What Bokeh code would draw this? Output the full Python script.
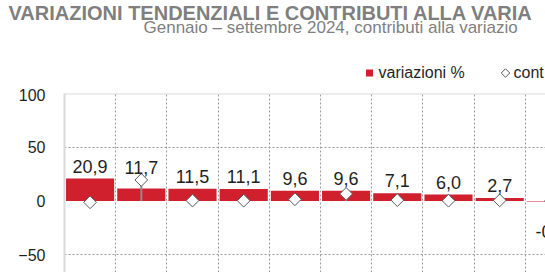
import math
from bokeh.plotting import figure
from bokeh.layouts import column
from bokeh.models import Range1d, FixedTicker, Span, ColumnDataSource
from bokeh.core.properties import value
from bokeh.embed import file_html
from bokeh.resources import INLINE

# ---- data ----
title_text = "VARIAZIONI TENDENZIALI E CONTRIBUTI ALLA VARIA"
subtitle_text = "Gennaio – settembre 2024, contributi alla variazio"
series_names = ["variazioni %", "cont"]
variazioni = [20.9, 11.7, 11.5, 11.1, 9.6, 9.6, 7.1, 6.0, 2.7, -0.4]
contributi = [-1.2, 19.6, 0.4, 0.3, 1.6, 6.6, 0.8, 0.3, 0.6, 0.0]
y_ticks = [-50, 0, 50, 100]

# ---- layout ----
W, H = 545, 272
HEAD_H = 88          # header strip (title, subtitle, legend)
FL, FT = 64, 93      # chart frame left / top in page pixels
CAT_PX = 51.2
Y_MIN = -66.5
RED = "#d0202e"
FONT = "Liberation Sans"
GREY_T = "#7f7f7f"
DARK = "#1f1f1f"

# ---------------- header figure (pixel coordinates, y downward) ----------------
head = figure(width=W, height=HEAD_H, output_backend="svg", toolbar_location=None,
              x_range=Range1d(0, W), y_range=Range1d(HEAD_H, 0),
              x_axis_location=None, y_axis_location=None,
              min_border=0, min_border_left=0, min_border_right=0,
              min_border_top=0, min_border_bottom=0)
head.frame_align = False
head.outline_line_color = None
head.grid.visible = False
head.background_fill_color = "white"
head.border_fill_color = "white"

head.text(x=[8], y=[12], text=[title_text], text_font=value(FONT), text_font_style="bold",
          text_font_size="20px", text_color=GREY_T, text_baseline="alphabetic")
head.text(x=[143], y=[27], text=[subtitle_text], text_font=value(FONT),
          text_font_size="17px", text_color=GREY_T, text_baseline="alphabetic")
# legend
head.scatter(x=[369], y=[72.5], marker="square", size=7, fill_color=RED, line_color=None)
head.text(x=[378], y=[72], text=[series_names[0]], text_font=value(FONT),
          text_font_size="16px", text_color=DARK, text_baseline="alphabetic")
head.scatter(x=[505], y=[72.5], marker="square", angle=math.pi / 4, size=6,
             fill_color="white", line_color="#595959", line_width=1)
head.text(x=[513], y=[72], text=[series_names[1]], text_font=value(FONT),
          text_font_size="16px", text_color=DARK, text_baseline="alphabetic")

# ---------------- chart figure ----------------
n = len(variazioni)
xs = [i + 0.5 for i in range(n)]
labels = [f"{v:.1f}".replace(".", ",") for v in variazioni]
label_y = [max(v, c) if v >= 0 else min(v, c) for v, c in zip(variazioni, contributi)]
label_off = [-12.5 if v >= 0 else 30.5 for v in variazioni]

src = ColumnDataSource(dict(x=xs, v=variazioni, c=contributi, zero=[0] * n,
                            lab=labels, ly=label_y, lo=label_off))

y_top = max(y_ticks)
p = figure(width=W, height=H - HEAD_H, output_backend="svg", toolbar_location=None,
           x_range=Range1d(0, (W - FL) / CAT_PX), y_range=Range1d(Y_MIN, y_top),
           x_axis_location=None,
           min_border_left=FL, min_border_top=FT - HEAD_H,
           min_border_right=0, min_border_bottom=0)
p.frame_align = False
p.outline_line_color = None
p.background_fill_color = "white"
p.border_fill_color = "white"

ax = p.yaxis[0]
ax.ticker = FixedTicker(ticks=y_ticks)
ax.axis_line_color = "#d9d9d9"
ax.axis_line_width = 2
ax.major_tick_line_color = None
ax.minor_tick_line_color = None
ax.major_label_text_font = FONT
ax.major_label_text_font_size = "16px"
ax.major_label_text_color = DARK
ax.major_label_standoff = 13

p.xgrid.ticker = FixedTicker(ticks=list(range(1, n + 1)))
p.xgrid.grid_line_color = "#9a9a9a"
p.xgrid.grid_line_dash = "2 2"
p.xgrid.grid_line_width = 1
p.ygrid.ticker = FixedTicker(ticks=[t for t in y_ticks if t not in (0, y_top)])
p.ygrid.grid_line_color = "#9a9a9a"
p.ygrid.grid_line_dash = "2 2"
p.ygrid.grid_line_width = 1
p.add_layout(Span(location=y_top, dimension="width", line_color="#d9d9d9", line_width=2))

p.vbar(x="x", top="v", bottom=0, width=0.94, source=src, fill_color=RED, line_color=None)
p.segment(x0="x", y0="zero", x1="x", y1="c", source=src, line_color="#8c8c8c", line_width=2)
p.scatter(x="x", y="c", source=src, marker="square", angle=math.pi / 4, size=9,
          fill_color="white", line_color="#595959", line_width=1)
p.text(x="x", y="ly", text="lab", source=src, y_offset="lo",
       text_align="center", text_baseline="alphabetic",
       text_font=value(FONT), text_font_size="18px", text_color=DARK)

layout = column(head, p, spacing=0)
open("out.html", "w").write(file_html(layout, INLINE))
